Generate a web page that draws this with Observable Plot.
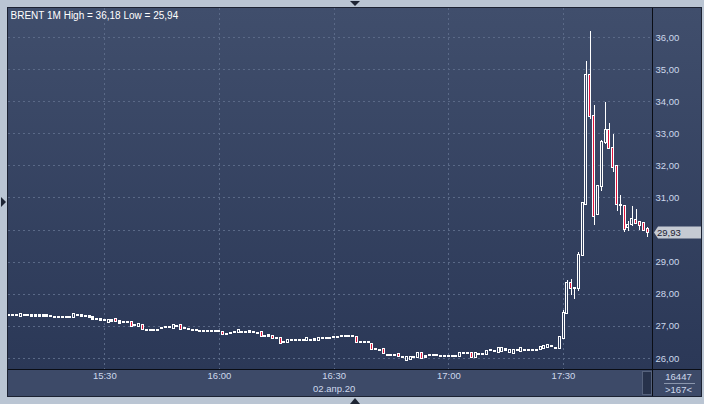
<!DOCTYPE html>
<html><head><meta charset="utf-8">
<script src="https://cdn.jsdelivr.net/npm/d3@7"></script>
<script src="https://cdn.jsdelivr.net/npm/@observablehq/plot@0.6"></script>
<style>
html,body{margin:0;padding:0;background:#bac5d3;overflow:hidden}
#chart svg{display:block}
</style></head><body><div id="chart"></div>
<script>
const title = "BRENT 1M High = 36,18 Low = 25,94";
const dateLabel = "02.апр.20";
const firstMinute = 5; // 15:05, minutes after 15:00
const xTickMinutes = [30, 60, 90, 120, 150];
const xTickLabels = ["15:30", "16:00", "16:30", "17:00", "17:30"];
const yTicks = [26, 27, 28, 29, 30, 31, 32, 33, 34, 35, 36];
const yTickLabels = ["26,00","27,00","28,00","29,00","30,00","31,00","32,00","33,00","34,00","35,00","36,00"];
const lastPriceLabel = "29,93";
const counterTop = "16447";
const counterBottom = ">167<";

const opens = [
27.34,27.33,27.33,27.31,27.33,27.33,27.33,27.32,27.33,27.32,
27.33,27.32,27.29,27.28,27.28,27.29,27.28,27.29,27.34,27.33,
27.31,27.30,27.27,27.21,27.20,27.19,27.13,27.17,27.20,27.15,
27.11,27.11,27.13,27.02,26.99,27.03,26.88,26.86,26.88,26.88,
26.93,26.95,26.95,26.93,27.01,27.03,26.93,26.91,26.88,26.86,
26.84,26.83,26.84,26.84,26.85,26.84,26.82,26.76,26.78,26.80,
26.80,26.82,26.82,26.82,26.82,26.79,26.82,26.70,26.70,26.68,
26.62,26.62,26.51,26.49,26.57,26.57,26.57,26.57,26.55,26.57,
26.57,26.55,26.62,26.62,26.62,26.64,26.64,26.68,26.70,26.69,
26.68,26.64,26.51,26.50,26.49,26.44,26.28,26.24,26.27,26.10,
26.10,26.10,26.11,26.04,25.95,25.96,26.03,26.04,26.14,26.02,
26.08,26.08,26.08,26.07,26.07,26.07,26.06,26.05,26.06,26.15,
26.16,26.17,26.02,26.12,26.12,26.12,26.24,26.23,26.20,26.22,
26.28,26.18,26.16,26.25,26.22,26.26,26.26,26.25,26.25,26.27,
26.30,26.33,26.38,26.32,26.32,26.63,27.41,28.33,28.19,28.17,
29.20,30.80,34.82,33.55,30.48,31.36,32.72,33.10,32.55,31.98,
30.78,30.74,30.07,30.18,30.29,30.25,30.19,30.02];
const highs = [
27.35,27.35,27.34,27.37,27.34,27.34,27.35,27.34,27.34,27.34,
27.34,27.33,27.30,27.29,27.31,27.30,27.29,27.37,27.35,27.34,
27.32,27.31,27.28,27.22,27.21,27.20,27.20,27.18,27.21,27.16,
27.12,27.13,27.14,27.03,27.06,27.04,26.91,26.87,26.90,26.89,
26.94,26.96,26.96,27.04,27.02,27.04,26.94,26.92,26.89,26.87,
26.85,26.84,26.85,26.85,26.87,26.85,26.83,26.78,26.79,26.81,
26.87,26.83,26.83,26.84,26.83,26.80,26.83,26.72,26.72,26.69,
26.64,26.63,26.53,26.58,26.58,26.59,26.58,26.58,26.63,26.58,
26.59,26.63,26.63,26.64,26.63,26.65,26.65,26.69,26.71,26.71,
26.71,26.66,26.53,26.51,26.50,26.45,26.30,26.25,26.28,26.11,
26.12,26.11,26.12,26.05,26.05,26.04,26.05,26.16,26.15,26.07,
26.09,26.09,26.09,26.08,26.08,26.08,26.07,26.06,26.16,26.16,
26.18,26.18,26.18,26.13,26.13,26.24,26.25,26.24,26.31,26.31,
26.29,26.27,26.25,26.26,26.31,26.27,26.27,26.26,26.26,26.35,
26.39,26.41,26.39,26.33,26.66,27.50,28.43,28.47,28.22,29.29,
30.84,35.25,36.18,33.88,31.38,32.79,33.98,33.33,32.98,32.00,
31.08,30.78,30.27,30.73,30.64,30.27,30.21,30.08];
const lows = [
27.33,27.32,27.30,27.30,27.30,27.32,27.32,27.31,27.31,27.31,
27.31,27.30,27.26,27.25,27.26,27.27,27.25,27.28,27.32,27.30,
27.29,27.27,27.22,27.19,27.18,27.15,27.12,27.14,27.13,27.09,
27.09,27.09,26.99,27.00,26.98,26.89,26.84,26.84,26.86,26.86,
26.91,26.93,26.94,26.92,26.99,26.90,26.91,26.89,26.86,26.83,
26.82,26.81,26.82,26.82,26.83,26.82,26.73,26.74,26.76,26.78,
26.79,26.80,26.81,26.81,26.79,26.77,26.69,26.68,26.68,26.61,
26.60,26.46,26.48,26.48,26.55,26.55,26.56,26.55,26.54,26.55,
26.55,26.54,26.59,26.60,26.61,26.61,26.63,26.66,26.68,26.66,
26.64,26.50,26.48,26.48,26.47,26.27,26.25,26.22,26.14,26.07,
26.07,26.08,26.05,26.02,25.94,25.95,26.00,26.03,26.00,26.01,
26.05,26.07,26.05,26.06,26.05,26.06,26.03,26.03,26.05,26.13,
26.14,26.01,26.01,26.11,26.11,26.11,26.23,26.21,26.19,26.21,
26.23,26.17,26.15,26.24,26.21,26.25,26.24,26.23,26.24,26.26,
26.29,26.32,26.37,26.31,26.31,26.60,27.38,27.95,27.83,28.10,
29.18,30.78,33.45,30.14,30.45,31.21,32.66,32.50,31.80,30.59,
30.46,29.93,29.97,30.12,30.18,29.99,29.98,29.78];
const closes = [
27.34,27.34,27.33,27.36,27.33,27.33,27.32,27.33,27.32,27.33,
27.32,27.31,27.29,27.28,27.29,27.28,27.28,27.36,27.33,27.32,
27.31,27.29,27.23,27.20,27.19,27.18,27.19,27.16,27.14,27.10,
27.11,27.12,27.00,27.02,27.05,26.90,26.88,26.86,26.87,26.88,
26.93,26.95,26.96,27.03,27.01,26.91,26.93,26.91,26.88,26.86,
26.84,26.83,26.83,26.84,26.85,26.84,26.74,26.76,26.78,26.80,
26.86,26.82,26.82,26.83,26.82,26.79,26.70,26.70,26.71,26.62,
26.62,26.47,26.51,26.57,26.57,26.57,26.57,26.57,26.62,26.57,
26.58,26.62,26.62,26.63,26.62,26.64,26.64,26.68,26.70,26.69,
26.68,26.51,26.51,26.50,26.49,26.28,26.28,26.24,26.15,26.10,
26.10,26.10,26.06,26.04,26.04,26.03,26.03,26.15,26.01,26.06,
26.08,26.08,26.08,26.07,26.07,26.07,26.06,26.05,26.15,26.15,
26.16,26.02,26.17,26.12,26.12,26.23,26.24,26.23,26.30,26.30,
26.24,26.26,26.24,26.25,26.30,26.26,26.26,26.25,26.25,26.34,
26.38,26.40,26.38,26.32,26.64,27.39,28.33,28.17,28.19,29.21,
30.82,34.82,33.55,30.43,31.36,32.72,33.10,32.55,31.94,30.79,
30.77,30.03,30.14,30.32,30.21,30.15,30.00,29.93];

const candles = opens.map((o, i) => ({
  t: firstMinute + i, o, h: highs[i], l: lows[i], c: closes[i],
  top: Math.max(o, closes[i]), bot: Math.min(o, closes[i]), down: closes[i] < o
}));

const textColor = "#cdd8ec";
const fontFamily = "'Liberation Sans', Arial, sans-serif";

function background(index, scales, values, dims) {
  const g = d3.create("svg:g");
  const L = dims.marginLeft, T = dims.marginTop, R = dims.width - 3, B = dims.height - dims.marginBottom;
  const lg = g.append("defs").append("linearGradient").attr("id", "bg")
    .attr("gradientUnits", "userSpaceOnUse").attr("x1", 0).attr("y1", T).attr("x2", 0).attr("y2", B);
  lg.append("stop").attr("offset", "0%").attr("stop-color", "#404e6c");
  lg.append("stop").attr("offset", "100%").attr("stop-color", "#2b3857");
  g.append("rect").attr("x", L).attr("y", T).attr("width", R - L).attr("height", B - T).attr("fill", "url(#bg)");
  g.append("rect").attr("x", L).attr("y", B).attr("width", R - L).attr("height", 27).attr("fill", "#3d4a68");
  return g.node();
}

function overlay(index, scales, values, dims) {
  const g = d3.create("svg:g").attr("shape-rendering", "crispEdges").attr("text-anchor", "start");
  const L = dims.marginLeft, T = dims.marginTop, R = dims.width - 3;
  const px = dims.width - dims.marginRight, py = dims.height - dims.marginBottom, B = py + 27;
  g.append("rect").attr("x", L - 0.5).attr("y", T - 0.5).attr("width", R - L + 1).attr("height", B - T + 1)
    .attr("fill", "none").attr("stroke", "#1c2232");
  g.append("line").attr("x1", L).attr("x2", R).attr("y1", py + 0.5).attr("y2", py + 0.5).attr("stroke", "#0a0d15");
  g.append("line").attr("x1", px + 0.5).attr("x2", px + 0.5).attr("y1", T).attr("y2", B).attr("stroke", "#0a0d15");
  // scroll thumb
  g.append("rect").attr("x", px - 9.5).attr("y", py + 2.5).attr("width", 9).attr("height", 23)
    .attr("fill", "#27324b").attr("stroke", "#56627c");
  // counters
  const cx = (px + R) / 2 + 2;
  g.append("text").attr("x", cx).attr("y", py + 8).attr("text-anchor", "middle").attr("dy", "0.35em")
    .attr("fill", textColor).attr("font-size", 9.5).attr("font-family", fontFamily).text(counterTop);
  g.append("line").attr("x1", px + 12).attr("x2", R - 6).attr("y1", py + 14.5).attr("y2", py + 14.5).attr("stroke", "#8a96ad");
  g.append("text").attr("x", cx).attr("y", py + 21).attr("text-anchor", "middle").attr("dy", "0.35em")
    .attr("fill", textColor).attr("font-size", 9.5).attr("font-family", fontFamily).text(counterBottom);
  // last price label
  const yc = Math.round(scales.y(closes[closes.length - 1])) + 0.5;
  g.append("path").attr("shape-rendering", "auto")
    .attr("d", `M${px + 2},${yc} L${px + 6},${yc - 6} L${R},${yc - 6} L${R},${yc + 6} L${px + 6},${yc + 6} Z`)
    .attr("fill", "#c5cad3");
  g.append("text").attr("x", px + 5).attr("y", yc).attr("dy", "0.35em").attr("text-anchor", "start")
    .attr("fill", "#1a2131").attr("font-size", 9.5).attr("font-family", fontFamily).text(lastPriceLabel);
  // frame arrows
  const mx = dims.width / 2 + 3;
  g.append("path").attr("shape-rendering", "auto").attr("d", `M${mx - 5},1 L${mx + 5},1 L${mx},6 Z`).attr("fill", "#1e2534");
  g.append("path").attr("shape-rendering", "auto").attr("d", `M${mx - 5},404 L${mx + 5},404 L${mx},398 Z`).attr("fill", "#1e2534");
  g.append("path").attr("shape-rendering", "auto").attr("d", `M1,197 L6,202 L1,207 Z`).attr("fill", "#1e2534");
  return g.node();
}

const chart = Plot.plot({
  width: 704,
  height: 404,
  marginTop: 8,
  marginLeft: 8,
  marginRight: 52,
  marginBottom: 35,
  x: {domain: [4.81, 173.28], axis: null},
  y: {domain: [25.657, 36.903], axis: null},
  style: {background: "transparent", fontFamily, fontSize: "9.5px", overflow: "visible"},
  marks: [
    background,
    Plot.ruleY(yTicks, {y: d => d, stroke: "#5a6987", strokeDasharray: "2,3", shapeRendering: "crispEdges"}),
    Plot.ruleX(xTickMinutes, {x: d => d, stroke: "#5a6987", strokeDasharray: "2,3", shapeRendering: "crispEdges"}),
    Plot.axisY(yTicks.filter(d => d !== 30), {anchor: "right", tickSize: 0, tickPadding: 3, color: textColor,
      tickFormat: d => yTickLabels[yTicks.indexOf(d)]}),
    Plot.axisX(xTickMinutes, {anchor: "bottom", tickSize: 0, tickPadding: 3, color: textColor,
      tickFormat: d => xTickLabels[xTickMinutes.indexOf(d)]}),
    Plot.text([{m: 90, label: dateLabel}], {x: "m", text: "label", frameAnchor: "bottom", dy: 22, fill: textColor}),
    Plot.text([title], {frameAnchor: "top-left", dx: 2, dy: 3, lineAnchor: "top", textAnchor: "start", fill: "#ffffff", fontSize: 10}),
    Plot.ruleX(candles, {x: "t", y1: "l", y2: "h", stroke: "#ffffff", strokeWidth: 1, shapeRendering: "crispEdges"}),
    Plot.rect(candles, {x1: "t", x2: "t", y1: "bot", y2: "top", fill: "#ffffff",
      insetLeft: -1.5, insetRight: -1.5, insetTop: -1, insetBottom: -1, shapeRendering: "crispEdges"}),
    Plot.rect(candles.filter(d => d.top - d.bot > 0.05), {x1: "t", x2: "t", y1: "bot", y2: "top",
      fill: d => d.down ? "#e0143c" : "url(#bg)",
      insetLeft: -0.5, insetRight: -0.5, insetTop: 0, insetBottom: 0, shapeRendering: "crispEdges"}),
    overlay
  ]
});
document.getElementById("chart").appendChild(chart);
</script></body></html>
